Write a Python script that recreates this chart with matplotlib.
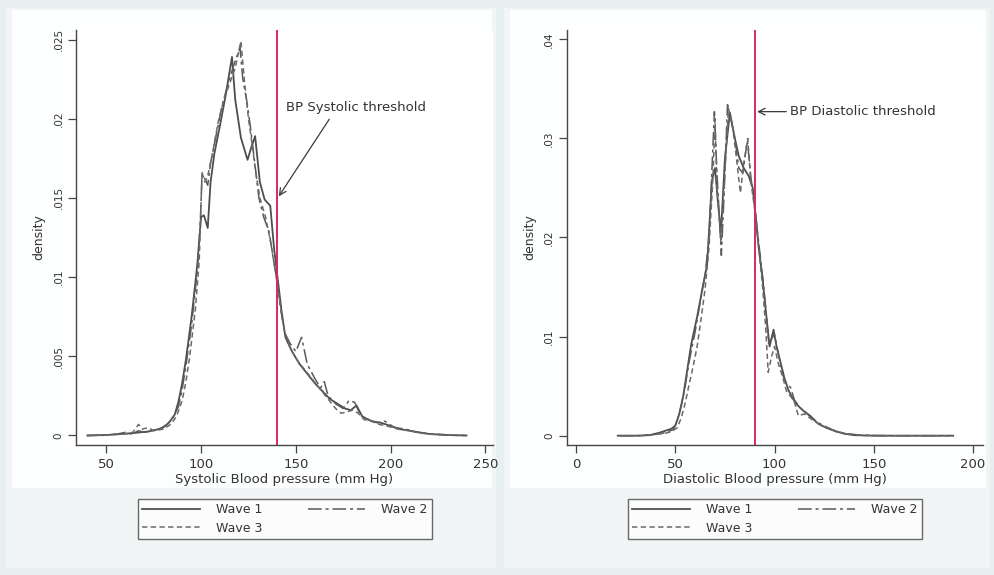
import matplotlib
matplotlib.use("Agg")
import matplotlib.pyplot as plt
from matplotlib.lines import Line2D
from matplotlib.patches import Rectangle

plt.rcParams['font.family'] = ['DejaVu Sans']

# ---------------- data: Systolic ----------------
sys_w1_x = [40, 50, 58, 64, 68, 72, 76, 80, 83, 86, 88, 90, 92, 95, 98, 100, 101.5, 103.5, 105, 107, 110, 113,
            116.3, 118, 121, 124.5, 126.5, 128.5, 131, 133.5, 136.5, 138.5, 140.5, 142.5, 144.5, 148, 152, 156,
            160, 164, 168, 172, 176, 179, 182, 185, 190, 195, 200, 205, 210, 215, 220, 230, 240]
sys_w1_y = [0, 0.00003, 0.0001, 0.00015, 0.0002, 0.00025, 0.00035, 0.0005, 0.0008, 0.0013, 0.0021, 0.0033,
            0.0048, 0.0075, 0.0108, 0.0138, 0.0139, 0.0131, 0.0160, 0.0178, 0.0196, 0.0215, 0.0239, 0.0212,
            0.0188, 0.0174, 0.0182, 0.0189, 0.0160, 0.0149, 0.0145, 0.0118, 0.0098, 0.0078, 0.0062, 0.0053,
            0.0045, 0.0039, 0.0033, 0.0028, 0.0023, 0.0020, 0.0017, 0.0016, 0.0019, 0.0012, 0.0009, 0.0008,
            0.0006, 0.0004, 0.0003, 0.0002, 0.0001, 0.00003, 0]

sys_w2_x = [40, 50, 56, 60, 63, 67, 70, 74, 78, 82, 85, 88, 90, 92, 95, 98, 99.5, 100.5, 102, 103.5, 105, 108,
            111, 114, 117, 120.5, 122, 124, 126, 128, 130.5, 133, 136, 138, 140, 142, 144, 147, 150, 153, 156,
            160, 163, 165, 167, 171, 175, 178, 181, 184, 188, 193, 197, 202, 208, 214, 222, 232, 240]
sys_w2_y = [0, 0.00003, 0.0001, 0.0002, 0.0001, 0.0003, 0.0002, 0.0003, 0.0004, 0.0007, 0.0011, 0.0018,
            0.0029, 0.0044, 0.0070, 0.0104, 0.0132, 0.0165, 0.0162, 0.0158, 0.0172, 0.0190, 0.0208, 0.0221,
            0.0233, 0.0245, 0.0225, 0.0212, 0.0195, 0.0175, 0.0150, 0.0138, 0.0128, 0.0112, 0.0098, 0.0080,
            0.0065, 0.0058, 0.0053, 0.0062, 0.0045, 0.0036, 0.0030, 0.0034, 0.0025, 0.0020, 0.0017, 0.0022,
            0.0021, 0.0013, 0.0010, 0.0008, 0.0009, 0.0005, 0.0004, 0.0002, 0.0001, 0.00002, 0]

sys_w3_x = [40, 52, 60, 64, 67, 69, 72, 75, 80, 84, 87, 90, 92, 94, 97, 99, 100.5, 102, 103.5, 106, 109, 112,
            115, 118, 121, 123, 125, 127, 129, 131, 134, 137, 140, 142, 144, 147, 151, 155, 159, 163, 167, 171,
            174, 177, 180, 183, 186, 190, 194, 198, 204, 210, 216, 224, 235]
sys_w3_y = [0, 0.00003, 0.0001, 0.0002, 0.0007, 0.0004, 0.0005, 0.0003, 0.0004, 0.0007, 0.0012, 0.0022,
            0.0034, 0.0050, 0.0080, 0.0110, 0.0166, 0.0160, 0.0164, 0.0178, 0.0198, 0.0212, 0.0222, 0.0232,
            0.0249, 0.0222, 0.0200, 0.0183, 0.0165, 0.0150, 0.0138, 0.0120, 0.0097, 0.0080, 0.0066, 0.0055,
            0.0047, 0.0041, 0.0035, 0.0029, 0.0023, 0.0017, 0.0014, 0.0015, 0.0016, 0.0014, 0.0010, 0.0009,
            0.0007, 0.0006, 0.0004, 0.0003, 0.00015, 0.00005, 0]

# ---------------- data: Diastolic ----------------
dia_w1_x = [21, 30, 37, 42, 45, 48, 50, 52, 54, 56, 58, 61, 64, 66, 68.5, 70, 71.5, 73, 75, 77.5, 80, 82,
            84.5, 87, 89, 90.5, 92, 94, 96, 97.5, 99.5, 101, 103, 105, 107, 109, 111, 114, 118, 122, 126, 130,
            135, 140, 150, 170, 190]
dia_w1_y = [0, 0, 0.00005, 0.0003, 0.0005, 0.0007, 0.0010, 0.0022, 0.0040, 0.0066, 0.0092, 0.0120, 0.0152,
            0.0172, 0.0258, 0.0270, 0.0235, 0.0205, 0.0280, 0.0326, 0.0300, 0.0282, 0.0270, 0.0262, 0.0250,
            0.0222, 0.0190, 0.0158, 0.0118, 0.0090, 0.0107, 0.0090, 0.0074, 0.0058, 0.0046, 0.0038, 0.0032,
            0.0026, 0.0020, 0.0012, 0.0008, 0.0005, 0.0002, 0.00005, 0, 0, 0]

dia_w2_x = [22, 32, 38, 43, 46, 49, 51, 53, 55, 57, 60, 63, 65, 67, 69.7, 71, 73.2, 74.5, 76.3, 78, 80, 82,
            84, 86.3, 88, 90, 92, 94, 96, 97, 98.5, 100, 102, 104, 106, 108, 110, 113, 117, 121, 126, 131,
            136, 145, 160, 180, 188]
dia_w2_y = [0, 0, 0.0001, 0.0002, 0.0004, 0.0006, 0.0015, 0.0030, 0.0050, 0.0075, 0.0105, 0.0140, 0.0162,
            0.0200, 0.0327, 0.0265, 0.0182, 0.0240, 0.0334, 0.0320, 0.0300, 0.0270, 0.0265, 0.0298, 0.0262,
            0.0232, 0.0195, 0.0160, 0.0120, 0.0093, 0.0098, 0.0102, 0.0082, 0.0062, 0.0052, 0.0049, 0.0036,
            0.0028, 0.0021, 0.0014, 0.0009, 0.0004, 0.0002, 0.00003, 0, 0, 0]

dia_w3_x = [23, 33, 39, 44, 48, 51, 53, 55, 57, 59, 61, 63, 65, 67, 69, 70, 71, 73, 75, 76.8, 79, 80.5,
            82.8, 84.5, 86.5, 88, 90, 92, 94, 95.5, 96.8, 98.5, 100, 102, 104, 106, 108, 110, 112, 115, 119,
            124, 129, 134, 140, 150, 175, 190]
dia_w3_y = [0, 0, 0.0001, 0.0002, 0.0004, 0.0008, 0.0018, 0.0033, 0.0052, 0.0070, 0.0090, 0.0118, 0.0148,
            0.0190, 0.0262, 0.0320, 0.0250, 0.0195, 0.0265, 0.0330, 0.0310, 0.0285, 0.0245, 0.0275, 0.0300,
            0.0258, 0.0228, 0.0190, 0.0150, 0.0110, 0.0064, 0.0080, 0.0090, 0.0072, 0.0060, 0.0045, 0.0040,
            0.0034, 0.0020, 0.0022, 0.0016, 0.0010, 0.0006, 0.0003, 0.0001, 0, 0, 0]

series_labels = ["Wave 1", "Wave 2", "Wave 3"]

sys_xticks = [50, 100, 150, 200, 250]
sys_yticks = [0, 0.005, 0.01, 0.015, 0.02, 0.025]
sys_yticklabels = ["0", ".005", ".01", ".015", ".02", ".025"]
dia_xticks = [0, 50, 100, 150, 200]
dia_yticks = [0, 0.01, 0.02, 0.03, 0.04]
dia_yticklabels = ["0", ".01", ".02", ".03", ".04"]

sys_threshold = 140
dia_threshold = 90

# ---------------- styling ----------------
line_styles = [
    dict(color="#4b504d", lw=1.3, ls="-"),
    dict(color="#5a5a5a", lw=1.1, ls=(0, (9, 2.5, 2, 2.5))),
    dict(color="#6a6a6a", lw=1.1, ls=(0, (3.5, 2.2))),
]
red = "#d9285e"
axis_col = "#454545"
txt_col = "#333333"

fig = plt.figure(figsize=(9.95, 5.75), dpi=100)
fig.patch.set_facecolor("#e8eff0")

# lighter graph regions and white panel regions
for x0, w in [(6 / 995, 490 / 995), (504 / 995, 486 / 995)]:
    fig.patches.append(Rectangle((x0, 1 - 568 / 575), w, 560 / 575, transform=fig.transFigure,
                                 facecolor="#f1f5f6", edgecolor="none", zorder=-11))
    fig.patches.append(Rectangle((x0 + 6 / 995, 1 - 488 / 575), w - 10 / 995, 478 / 575,
                                 transform=fig.transFigure,
                                 facecolor="#fdfefe", edgecolor="none", zorder=-10))

ax1 = fig.add_axes([76 / 995, 1 - 445 / 575, 417 / 995, 415 / 575])
ax2 = fig.add_axes([566.7 / 995, 1 - 445 / 575, 416.3 / 995, 415 / 575])


def style_axes(ax, xticks, yticks, yticklabels, xlabel):
    ax.set_facecolor("white")
    for s in ["top", "right"]:
        ax.spines[s].set_visible(False)
    for s in ["left", "bottom"]:
        ax.spines[s].set_color(axis_col)
        ax.spines[s].set_linewidth(1.0)
    ax.set_xticks(xticks)
    ax.set_xticklabels([str(t) for t in xticks], fontsize=9.5, color=txt_col)
    ax.set_yticks(yticks)
    ax.set_yticklabels(yticklabels, fontsize=7.5, color=txt_col, rotation=90, va="center")
    ax.tick_params(axis="both", direction="out", length=6, width=0.9, color=axis_col, pad=3)
    ax.set_xlabel(xlabel, fontsize=9.5, color=txt_col, labelpad=2)
    ax.set_ylabel("density", fontsize=9, color=txt_col, labelpad=6)


# Systolic panel
for xs, ys, st in zip([sys_w1_x, sys_w2_x, sys_w3_x], [sys_w1_y, sys_w2_y, sys_w3_y], line_styles):
    ax1.plot(xs, ys, **st)
ax1.axvline(sys_threshold, color=red, lw=1.4)
ax1.set_xlim(34, 254)
ax1.set_ylim(-0.0006, 0.0256)
style_axes(ax1, sys_xticks, sys_yticks, sys_yticklabels, "Systolic Blood pressure (mm Hg)")
ax1.annotate("BP Systolic threshold", xy=(141, 0.0151), xytext=(145, 0.0207),
             fontsize=9.5, color=txt_col, va="center", ha="left",
             arrowprops=dict(arrowstyle="->", color="#3a3a3a", lw=0.9, shrinkA=2, shrinkB=0,
                             relpos=(0.33, 0.0), mutation_scale=12))

# Diastolic panel
for xs, ys, st in zip([dia_w1_x, dia_w2_x, dia_w3_x], [dia_w1_y, dia_w2_y, dia_w3_y], line_styles):
    ax2.plot(xs, ys, **st)
ax2.axvline(dia_threshold, color=red, lw=1.4)
ax2.set_xlim(-4.7, 205)
ax2.set_ylim(-0.00094, 0.04094)
style_axes(ax2, dia_xticks, dia_yticks, dia_yticklabels, "Diastolic Blood pressure (mm Hg)")
ax2.annotate("BP Diastolic threshold", xy=(91.2, 0.0327), xytext=(108, 0.0327),
             fontsize=9.5, color=txt_col, va="center", ha="left",
             arrowprops=dict(arrowstyle="->", color="#3a3a3a", lw=0.9, shrinkA=1, shrinkB=0,
                             mutation_scale=12))

# Legends
handles = [Line2D([], [], **st) for st in line_styles]
order = [0, 2, 1]
for bx in [(138 / 995), (628 / 995)]:
    leg = fig.legend([handles[i] for i in order], [series_labels[i] for i in order],
                     loc="center", bbox_to_anchor=(bx, 1 - 545 / 575, 294 / 995, 52 / 575),
                     mode="expand", ncol=2, fontsize=9, frameon=True, fancybox=False,
                     handlelength=4.6, handletextpad=1.3, columnspacing=1.5,
                     labelspacing=0.45, borderpad=0.35, borderaxespad=0)
    leg.get_frame().set_edgecolor("#444444")
    leg.get_frame().set_linewidth(1.0)
    leg.get_frame().set_facecolor("white")
    for t in leg.get_texts():
        t.set_color(txt_col)

fig.savefig("out.png", dpi=100, facecolor=fig.get_facecolor())
